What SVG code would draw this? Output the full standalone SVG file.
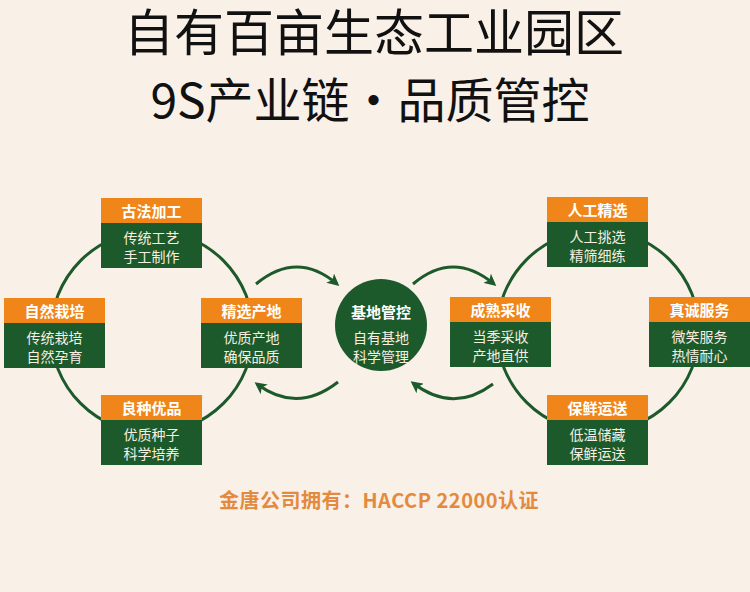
<svg xmlns="http://www.w3.org/2000/svg" width="750" height="592" viewBox="0 0 750 592">
<defs>
<style>
.bg{fill:#f9f0e7}
.title{font-family:"Noto Sans CJK SC","Noto Sans",sans-serif;font-weight:400;fill:#111;text-anchor:middle}
.hd{fill:#f0861a}
.bd{fill:#1d5a2b}
.ht{font-family:"Noto Sans CJK SC",sans-serif;font-size:15px;font-weight:700;fill:#fff;text-anchor:middle}
.bt{font-family:"Noto Sans CJK SC",sans-serif;font-size:14px;fill:#f6efe2;text-anchor:middle}
.ring{fill:none;stroke:#1d5a2b;stroke-width:3}
.arr{fill:none;stroke:#1d5a2b;stroke-width:3;marker-end:url(#ah)}
.foot{font-family:"Noto Sans CJK SC","Noto Sans",sans-serif;font-size:20px;font-weight:700;letter-spacing:0.5px;fill:#e38a3e;text-anchor:middle}
</style>
<marker id="ah" viewBox="0 0 12 12" refX="9" refY="6" markerWidth="12" markerHeight="12" markerUnits="userSpaceOnUse" orient="auto">
<path d="M0,0 L12,6 L0,12 L3,6 z" fill="#1d5a2b"/>
</marker>
</defs>
<rect class="bg" x="0" y="0" width="750" height="592"/>
<g id="title">
<text class="title" x="374" y="51" font-size="50">自有百亩生态工业园区</text>
<text class="title" x="370" y="118" font-size="48">9S产业链·品质管控</text>
</g>
<g id="connectors">
<circle class="ring" cx="152" cy="332" r="101"/>
<circle class="ring" cx="598" cy="331" r="101"/>
<path class="arr" d="M256,284 Q297,250 337,284"/>
<path class="arr" d="M338,382 Q297,414 257,384"/>
<path class="arr" d="M413,284 Q453,250 494,284"/>
<path class="arr" d="M493,384 Q453,414 413,383"/>
</g>
<g id="n-gufa">
<rect class="hd" x="101" y="198" width="101" height="25"/>
<rect class="bd" x="101" y="223" width="101" height="45"/>
<text class="ht" x="151.5" y="217">古法加工</text>
<text class="bt" x="151.5" y="243">传统工艺</text>
<text class="bt" x="151.5" y="262">手工制作</text>
</g>
<g id="n-ziran">
<rect class="hd" x="4" y="298" width="101" height="25"/>
<rect class="bd" x="4" y="323" width="101" height="45"/>
<text class="ht" x="54.5" y="317">自然栽培</text>
<text class="bt" x="54.5" y="343">传统栽培</text>
<text class="bt" x="54.5" y="362">自然孕育</text>
</g>
<g id="n-jingxuan">
<rect class="hd" x="201" y="298" width="101" height="25"/>
<rect class="bd" x="201" y="323" width="101" height="45"/>
<text class="ht" x="251.5" y="317">精选产地</text>
<text class="bt" x="251.5" y="343">优质产地</text>
<text class="bt" x="251.5" y="362">确保品质</text>
</g>
<g id="n-liangzhong">
<rect class="hd" x="101" y="395" width="101" height="25"/>
<rect class="bd" x="101" y="420" width="101" height="45"/>
<text class="ht" x="151.5" y="414">良种优品</text>
<text class="bt" x="151.5" y="440">优质种子</text>
<text class="bt" x="151.5" y="459">科学培养</text>
</g>
<g id="n-center">
<circle cx="381" cy="325" r="46" fill="#1d5a2b"/>
<text class="ht" x="381" y="318" font-size="16">基地管控</text>
<text class="bt" x="381" y="343">自有基地</text>
<text class="bt" x="381" y="362">科学管理</text>
</g>
<g id="n-rengong">
<rect class="hd" x="547" y="197" width="101" height="25"/>
<rect class="bd" x="547" y="222" width="101" height="45"/>
<text class="ht" x="597.5" y="216">人工精选</text>
<text class="bt" x="597.5" y="242">人工挑选</text>
<text class="bt" x="597.5" y="261">精筛细练</text>
</g>
<g id="n-chengshu">
<rect class="hd" x="450" y="297" width="101" height="25"/>
<rect class="bd" x="450" y="322" width="101" height="45"/>
<text class="ht" x="500.5" y="316">成熟采收</text>
<text class="bt" x="500.5" y="342">当季采收</text>
<text class="bt" x="500.5" y="361">产地直供</text>
</g>
<g id="n-zhencheng">
<rect class="hd" x="649" y="297" width="101" height="25"/>
<rect class="bd" x="649" y="322" width="101" height="45"/>
<text class="ht" x="699.5" y="316">真诚服务</text>
<text class="bt" x="699.5" y="342">微笑服务</text>
<text class="bt" x="699.5" y="361">热情耐心</text>
</g>
<g id="n-baoxian">
<rect class="hd" x="547" y="395" width="101" height="25"/>
<rect class="bd" x="547" y="420" width="101" height="45"/>
<text class="ht" x="597.5" y="414">保鲜运送</text>
<text class="bt" x="597.5" y="440">低温储藏</text>
<text class="bt" x="597.5" y="459">保鲜运送</text>
</g>
<g id="footer">
<text class="foot" x="379" y="508">金唐公司拥有：HACCP 22000认证</text>
</g>
</svg>
